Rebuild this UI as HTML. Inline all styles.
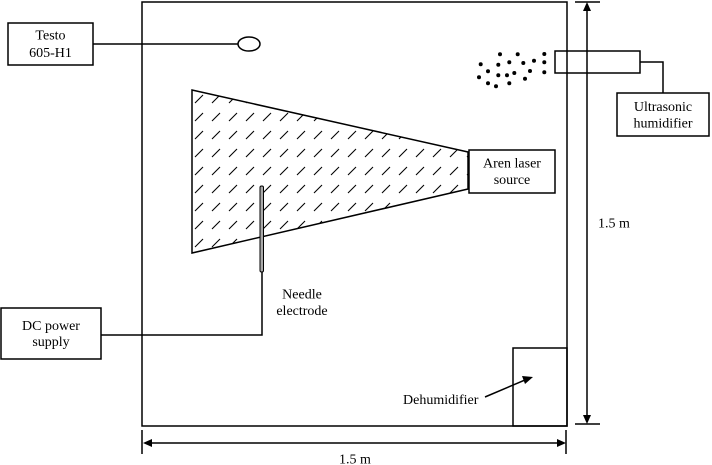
<!DOCTYPE html>
<html><head><meta charset="utf-8"><style>
html,body{margin:0;padding:0;background:#fff;}
svg{display:block;}
text{font-family:"Liberation Serif",serif;font-size:14px;fill:#000;}
</style></head><body>
<svg width="712" height="465" viewBox="0 0 712 465" xmlns="http://www.w3.org/2000/svg">
<defs>
<pattern id="h" patternUnits="userSpaceOnUse" x="192" y="90" width="17" height="18">
<path d="M3,13 L11,5" stroke="#000" stroke-width="1.1"/>
</pattern>
<clipPath id="tc"><polygon points="192,90 468,152 468,189 192,253"/></clipPath>
</defs>
<g fill="none" stroke="#000" stroke-width="1.5">
<!-- main box -->
<rect x="142" y="2" width="425" height="424"/>
<!-- testo -->
<rect x="8" y="23" width="85" height="42"/>
<line x1="93" y1="44" x2="238" y2="44"/>
<ellipse cx="249" cy="44" rx="11" ry="7" fill="#fff"/>
<!-- humidifier -->
<rect x="555" y="51" width="85" height="22"/>
<polyline points="640,62 663,62 663,93"/>
<rect x="617" y="93" width="92" height="43"/>
<!-- laser -->
<rect x="469" y="150" width="86" height="43"/>
<!-- DC -->
<rect x="1" y="308" width="100" height="51"/>
<polyline points="101,335 262,335 262,271"/>
<!-- dehumidifier -->
<rect x="513" y="348" width="54" height="78"/>
<line x1="485" y1="397" x2="525" y2="380"/>
<!-- vertical dim -->
<line x1="587" y1="8" x2="587" y2="418"/>
<line x1="575" y1="2" x2="600" y2="2"/>
<line x1="575" y1="424" x2="600" y2="424"/>
<!-- horizontal dim -->
<line x1="149" y1="443" x2="560" y2="443"/>
<line x1="142" y1="430" x2="142" y2="454"/>
<line x1="566" y1="430" x2="566" y2="454"/>
</g>
<!-- trapezoid -->
<polygon points="192,90 468,152 468,189 192,253" fill="url(#h)" stroke="none"/>
<polygon points="192,90 468,152 468,189 192,253" fill="none" stroke="#000" stroke-width="1.5"/>
<!-- needle -->
<rect x="260" y="186" width="3.5" height="86" rx="1.5" fill="#aaa" stroke="#000" stroke-width="1"/>
<!-- arrowheads -->
<g fill="#000">
<polygon points="587,2 583,11 591,11"/>
<polygon points="587,424 583,415 591,415"/>
<polygon points="143,443 152,439 152,447"/>
<polygon points="566,443 557,439 557,447"/>
<polygon points="533,377 522,376 525,384"/>
</g>
<!-- dots -->
<g fill="#000">
<circle cx="500" cy="54.3" r="2"/><circle cx="517.7" cy="54.3" r="2"/><circle cx="544.3" cy="54" r="2"/>
<circle cx="480.7" cy="64.3" r="2"/><circle cx="498.3" cy="64.7" r="2"/><circle cx="509.3" cy="62.3" r="2"/>
<circle cx="523.3" cy="63" r="2"/><circle cx="534" cy="60.7" r="2"/><circle cx="544.3" cy="62.3" r="2"/>
<circle cx="488" cy="71.3" r="2"/><circle cx="498.3" cy="75.3" r="2"/><circle cx="507" cy="75.3" r="2"/>
<circle cx="514.3" cy="73" r="2"/><circle cx="530" cy="71" r="2"/><circle cx="544.3" cy="72.3" r="2"/>
<circle cx="479" cy="77.3" r="2"/><circle cx="525" cy="78.7" r="2"/><circle cx="488" cy="83.3" r="2"/>
<circle cx="496" cy="86.3" r="2"/><circle cx="509.3" cy="83.3" r="2"/>
</g>
<!-- texts -->
<g text-anchor="middle">
<text x="50.5" y="39.5">Testo</text>
<text x="50.5" y="57">605-H1</text>
<text x="663" y="111">Ultrasonic</text>
<text x="663" y="127.5">humidifier</text>
<text x="512" y="167.5">Aren laser</text>
<text x="512" y="184">source</text>
<text x="51" y="330">DC power</text>
<text x="51" y="346">supply</text>
<text x="302" y="298.5">Needle</text>
<text x="302" y="315">electrode</text>
</g>
<text x="403" y="404">Dehumidifier</text>
<text x="598" y="227.5">1.5 m</text>
<text x="339" y="463.5">1.5 m</text>
</svg>
</body></html>
